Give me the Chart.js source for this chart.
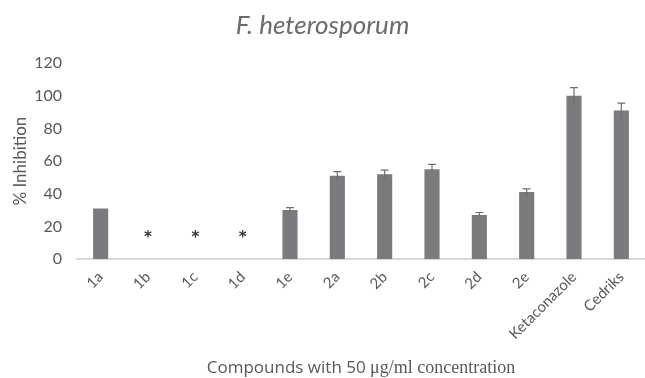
<!DOCTYPE html>
<html>
<head>
<meta charset="utf-8">
<script src="https://cdn.jsdelivr.net/npm/chart.js@4"></script>
<style>
  html, body { margin: 0; padding: 0; background: #fff; }
  #wrap { width: 645px; height: 378px; }
</style>
</head>
<body>
<div id="wrap"><canvas id="myChart" width="645" height="378"></canvas></div>
<script>
// data
var compounds = ['1a', '1b', '1c', '1d', '1e', '2a', '2b', '2c', '2d', '2e', 'Ketaconazole', 'Cedriks'];
var inhibition = [31, 0, 0, 0, 30, 51, 52, 55, 27, 41, 100, 91];
var errors = [0, 0, 0, 0, 1.5, 2.5, 2.5, 3, 1.5, 2, 5, 4.5];
var inactive = ['1b', '1c', '1d'];   // marked with *
var yTicks = [0, 20, 40, 60, 80, 100, 120];

var grey = '#595959';

// error bars (drawn over the bars, cap on top only)
var errorBars = {
    id: 'errorBars',
    afterDatasetsDraw: function(chart) {
        var ctx = chart.ctx;
        var y = chart.scales.y;
        var meta = chart.getDatasetMeta(0);
        ctx.save();
        ctx.strokeStyle = '#6e6e70';
        ctx.lineWidth = 1.2;
        meta.data.forEach(function(bar, i) {
            var e = errors[i];
            if (!e) return;
            var v = inhibition[i];
            var top = y.getPixelForValue(v + e);
            var bot = y.getPixelForValue(v - e);
            ctx.beginPath();
            ctx.moveTo(bar.x, bot);
            ctx.lineTo(bar.x, top);
            ctx.moveTo(bar.x - 4, top);
            ctx.lineTo(bar.x + 4, top);
            ctx.stroke();
        });
        // asterisks for the inactive ones
        ctx.fillStyle = '#333';
        ctx.font = 'bold 15px "DejaVu Sans"';
        ctx.textAlign = 'center';
        ctx.textBaseline = 'middle';
        inactive.forEach(function(c) {
            var i = compounds.indexOf(c);
            ctx.fillText('*', meta.data[i].x, y.getPixelForValue(13));
        });
        ctx.restore();
    }
};

// x axis title, sans + serif like the original
var xTitle = {
    id: 'xTitle',
    afterDraw: function(chart) {
        var ctx = chart.ctx;
        var a = chart.chartArea;
        var p1 = 'Compounds with 50 ';
        var p2 = '\u03bcg/ml concentration';
        ctx.save();
        ctx.fillStyle = grey;
        ctx.textBaseline = 'alphabetic';
        ctx.font = '17px "Open Sans"';
        var w1 = ctx.measureText(p1).width;
        ctx.font = '18px "Liberation Serif"';
        var w2 = ctx.measureText(p2).width;
        var x0 = (a.left + a.right) / 2 - (w1 + w2) / 2;
        ctx.font = '17px "Open Sans"';
        ctx.fillText(p1, x0, 373);
        ctx.font = '18px "Liberation Serif"';
        ctx.fillText(p2, x0 + w1, 373);
        ctx.restore();
    }
};

var dataObj = {
    type: 'bar',
    data: {
        labels: compounds,
        datasets: [{
            data: inhibition,
            backgroundColor: '#7a7b7e',
            borderWidth: 0,
            categoryPercentage: 1,
            barPercentage: 0.32
        }]
    },
    options: {
        responsive: false,
        animation: false,
        layout: { padding: { top: 8, right: 0, left: 0, bottom: 0 } },
        plugins: {
            legend: { display: false },
            tooltip: { enabled: false },
            title: {
                display: true,
                text: 'F. heterosporum',
                color: '#6b6b6b',
                font: { family: 'Lato', size: 26, style: 'italic', weight: 'normal' },
                padding: { top: 2, bottom: 22 }
            }
        },
        scales: {
            x: {
                grid: { display: false, drawTicks: false },
                border: { display: true, color: '#d9d9d9', width: 2 },
                ticks: {
                    color: grey,
                    font: { family: 'Lato', size: 15 },
                    minRotation: 45,
                    maxRotation: 45,
                    padding: 9
                },
                afterFit: function(scale) { scale.height = 119; }
            },
            y: {
                min: 0,
                max: 120,
                afterBuildTicks: function(scale) {
                    scale.ticks = yTicks.map(function(v) { return { value: v }; });
                },
                grid: { display: false, drawTicks: false },
                border: { display: false },
                ticks: {
                    color: grey,
                    font: { family: 'Lato', size: 16 },
                    padding: 15
                },
                title: {
                    display: true,
                    text: '% Inhibition',
                    color: grey,
                    font: { family: 'Lato', size: 17 },
                    padding: { top: 10, bottom: 0 }
                },
                afterFit: function(scale) { scale.width = 77; }
            }
        }
    },
    plugins: [errorBars, xTitle]
};

var ctx = document.getElementById('myChart').getContext('2d');
window.myBar = new Chart(ctx, dataObj);
</script>
</body>
</html>
